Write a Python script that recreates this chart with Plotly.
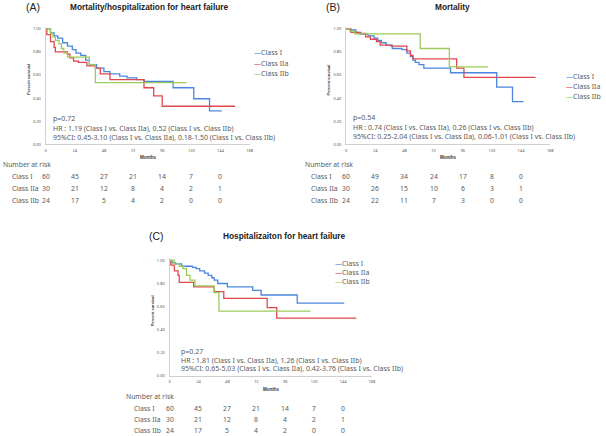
import plotly.graph_objects as go

W, H = 606, 436

# ---------------- data ----------------
classes = ["Class I", "Class IIa", "Class IIb"]
colors = ["#4A86E0", "#E0484E", "#9CCB58"]

# Panel A: Mortality/hospitalization for heart failure
A_I_t = [0, 4, 7, 10, 14, 18, 22, 25, 29, 33, 36, 42, 48, 53, 61, 67, 75, 81, 105, 122, 135, 145]
A_I_s = [1.0, 0.965, 0.94, 0.92, 0.88, 0.85, 0.82, 0.79, 0.77, 0.73, 0.69, 0.66, 0.63, 0.61, 0.59, 0.575, 0.56, 0.545, 0.49, 0.395, 0.29, 0.29]
A_IIa_t = [0, 1, 4, 7, 8, 18, 20, 23, 27, 34, 41, 45, 53, 81, 89, 96, 156]
A_IIa_s = [1.0, 0.95, 0.89, 0.84, 0.80, 0.78, 0.75, 0.72, 0.71, 0.68, 0.66, 0.61, 0.56, 0.49, 0.42, 0.33, 0.33]
A_IIb_t = [0, 4, 6, 8, 11, 13, 15, 18, 36, 41, 116]
A_IIb_s = [1.0, 0.96, 0.93, 0.90, 0.87, 0.83, 0.79, 0.755, 0.69, 0.535, 0.535]

# Panel B: Mortality
B_I_t = [0, 3, 8, 12, 18, 23, 26, 29, 33, 38, 46, 50, 53, 55, 57, 60, 64, 86, 124, 137, 146]
B_I_s = [1.0, 0.99, 0.97, 0.955, 0.94, 0.92, 0.90, 0.88, 0.86, 0.83, 0.82, 0.79, 0.76, 0.73, 0.71, 0.69, 0.66, 0.62, 0.495, 0.37, 0.37]
B_IIa_t = [0, 4, 10, 16, 20, 25, 28, 37, 50, 53, 55, 91, 97, 156]
B_IIa_s = [1.0, 0.97, 0.96, 0.93, 0.91, 0.89, 0.86, 0.85, 0.81, 0.77, 0.74, 0.66, 0.58, 0.58]
B_IIb_t = [0, 3, 7, 61, 85, 117]
B_IIb_s = [1.0, 0.98, 0.957, 0.83, 0.67, 0.67]

# Panel C: Hospitalization for heart failure
C_I_t = [0, 2, 5, 10, 19, 22, 25, 29, 32, 35, 37, 40, 48, 69, 76, 106, 145]
C_I_s = [1.0, 0.98, 0.97, 0.95, 0.94, 0.93, 0.91, 0.89, 0.87, 0.85, 0.83, 0.80, 0.77, 0.74, 0.70, 0.63, 0.63]
C_IIa_t = [0, 1, 4, 7, 8, 20, 37, 45, 81, 89, 155]
C_IIa_s = [1.0, 0.96, 0.91, 0.87, 0.81, 0.77, 0.73, 0.67, 0.59, 0.50, 0.50]
C_IIb_t = [0, 4, 8, 11, 14, 17, 21, 37, 41, 117]
C_IIb_s = [1.0, 0.97, 0.95, 0.93, 0.87, 0.83, 0.78, 0.72, 0.56, 0.56]

risk_times = [0, 24, 48, 72, 96, 120, 144]
A_risk_I = [60, 45, 27, 21, 14, 7, 0]
A_risk_IIa = [30, 21, 12, 8, 4, 2, 1]
A_risk_IIb = [24, 17, 5, 4, 2, 0, 0]
B_risk_I = [60, 49, 34, 24, 17, 8, 0]
B_risk_IIa = [30, 26, 15, 10, 6, 3, 1]
B_risk_IIb = [24, 22, 11, 7, 3, 0, 0]
C_risk_I = [60, 45, 27, 21, 14, 7, 0]
C_risk_IIa = [30, 21, 12, 8, 4, 2, 1]
C_risk_IIb = [24, 17, 5, 4, 2, 0, 0]

x_ticks = [0, 24, 48, 72, 96, 120, 144, 168]
y_ticks = [0.0, 0.2, 0.4, 0.6, 0.8, 1.0]

titles = ["Mortality/hospitalization for heart failure", "Mortality", "Hospitalizaiton for heart failure"]
letters = ["(A)", "(B)", "(C)"]
stats = [
    ["p=0.72",
     "HR : 1.19 (Class I vs. Class IIa), 0.52 (Class I vs. Class IIb)",
     "95%CI: 0.45-3.10 (Class I vs. Class IIa), 0.18-1.50 (Class I vs. Class IIb)"],
    ["p=0.54",
     "HR : 0.74 (Class I vs. Class IIa), 0.26 (Class I vs. Class IIb)",
     "95%CI: 0.25-2.04 (Class I vs. Class IIa), 0.06-1.01 (Class I vs. Class IIb)"],
    ["p=0.27",
     "HR : 1.81 (Class I vs. Class IIa), 1.26 (Class I vs. Class IIb)",
     "95%CI: 0.65-5.03 (Class I vs. Class IIa), 0.42-3.76 (Class I vs. Class IIb)"],
]

curves = [
    [(A_I_t, A_I_s), (A_IIa_t, A_IIa_s), (A_IIb_t, A_IIb_s)],
    [(B_I_t, B_I_s), (B_IIa_t, B_IIa_s), (B_IIb_t, B_IIb_s)],
    [(C_I_t, C_I_s), (C_IIa_t, C_IIa_s), (C_IIb_t, C_IIb_s)],
]
risks = [
    [A_risk_I, A_risk_IIa, A_risk_IIb],
    [B_risk_I, B_risk_IIa, B_risk_IIb],
    [C_risk_I, C_risk_IIa, C_risk_IIb],
]

# ---------------- layout geometry (pixels) ----------------
def px(x):
    return x / W

def py(y):
    return 1 - y / H

YMAX = 1.02
panels = [
    dict(x0=45, x1=250.7, y0=145, scale=116, title_c=150, title_y=7, letter_x=23,
         leg_x=253, leg_y=[53, 64, 74], stat_x=50, stat_y=[119, 129, 138],
         risk_head=(0, 165), risk_lab_x=9, risk_y=[177.7, 189.3, 201], ylab_x=27.5),
    dict(x0=348, x1=553.7, y0=145, scale=116, title_c=455.7, title_y=7, letter_x=326,
         leg_x=568, leg_y=[77, 87, 97], stat_x=353, stat_y=[118, 128.5, 137.5],
         risk_head=(305, 165), risk_lab_x=311, risk_y=[177.7, 189.3, 201], ylab_x=330.5),
    dict(x0=170, x1=374, y0=377.3, scale=115.6, title_c=286, title_y=237, letter_x=147,
         leg_x=335, leg_y=[265, 274, 283], stat_x=179, stat_y=[352.7, 362, 370.5],
         risk_head=(124, 398), risk_lab_x=131.7, risk_y=[410, 421.5, 432.5], ylab_x=152.5),
]

GRAY = "#595959"
FONT = "Noto Sans"
TFONT = "Liberation Sans"

fig = go.Figure()
annotations = []

for i, p in enumerate(panels):
    xa = "x" if i == 0 else f"x{i+1}"
    ya = "y" if i == 0 else f"y{i+1}"
    for j, (t, s) in enumerate(curves[i]):
        fig.add_trace(go.Scatter(x=t, y=s, mode="lines", line=dict(color=colors[j], width=1.3, shape="hv"),
                                 name=classes[j], showlegend=False, xaxis=xa, yaxis=ya, hoverinfo="skip"))
    ytop = p["y0"] - YMAX * p["scale"]
    axis_common = dict(showgrid=False, zeroline=False, showline=True, linecolor="#D0D0D0", linewidth=1,
                       ticks="", tickfont=dict(size=4, color="#555555", family=FONT))
    fig.layout[("xaxis" if i == 0 else f"xaxis{i+1}")] = dict(
        domain=[px(p["x0"]), px(p["x1"])], range=[0, 168], tickvals=x_ticks,
        anchor=ya, ticklabelstandoff=2, **axis_common)
    fig.layout[("yaxis" if i == 0 else f"yaxis{i+1}")] = dict(
        domain=[py(p["y0"]), py(ytop)], range=[0, YMAX], tickvals=y_ticks, tickformat=".2f",
        anchor=xa, ticklabelstandoff=3, **axis_common)

    # titles
    annotations.append(dict(text=letters[i], x=px(p["letter_x"]), y=py(p["title_y"]), xanchor="left", yanchor="middle",
                             font=dict(size=10.5, color="#222222", family=TFONT)))
    annotations.append(dict(text=f"<b>{titles[i]}</b>", x=px(p["title_c"]), y=py(p["title_y"]), xanchor="center",
                            yanchor="middle", font=dict(size=8.3, color="#222222", family=TFONT)))
    # axis titles
    annotations.append(dict(text="<b>Percent survival</b>", x=px(p["ylab_x"]), y=py(p["y0"] - 0.56 * p["scale"]),
                            textangle=-90, xanchor="center", yanchor="middle",
                            font=dict(size=4, color="#333333", family=TFONT)))
    annotations.append(dict(text="<b>Months</b>", x=px((p["x0"] + p["x1"]) / 2), y=py(p["y0"] + 13.5),
                            xanchor="center", yanchor="middle", font=dict(size=4.5, color="#333333", family=TFONT)))
    # legend
    for j, c in enumerate(classes):
        annotations.append(dict(text=f"<span style='color:{colors[j]}'>—</span>{c}", x=px(p["leg_x"]),
                                y=py(p["leg_y"][j]), xanchor="left", yanchor="middle",
                                font=dict(size=7, color=GRAY, family=FONT)))
    # stats
    for k, line in enumerate(stats[i]):
        annotations.append(dict(text=line, x=px(p["stat_x"]), y=py(p["stat_y"][k]), xanchor="left",
                                yanchor="middle", font=dict(size=7, color=GRAY, family=FONT)))
    # risk table
    annotations.append(dict(text="Number at risk", x=px(p["risk_head"][0]), y=py(p["risk_head"][1]),
                            xanchor="left", yanchor="middle", font=dict(size=6.8, color=GRAY, family=FONT)))
    for j, c in enumerate(classes):
        annotations.append(dict(text=c, x=px(p["risk_lab_x"]), y=py(p["risk_y"][j]), xanchor="left",
                                yanchor="middle", font=dict(size=6.8, color=GRAY, family=FONT)))
        for tm, n in zip(risk_times, risks[i][j]):
            annotations.append(dict(text=str(n), x=tm, xref=xa, y=py(p["risk_y"][j]), yref="paper",
                                    xanchor="center", yanchor="middle",
                                    font=dict(size=6.8, color=GRAY, family=FONT)))

for a in annotations:
    a.setdefault("xref", "paper")
    a.setdefault("yref", "paper")
    a["showarrow"] = False

fig.update_layout(width=W, height=H, margin=dict(l=0, r=0, t=0, b=0), plot_bgcolor="white",
                  paper_bgcolor="white", showlegend=False, annotations=annotations)

fig.write_html("out.html")
